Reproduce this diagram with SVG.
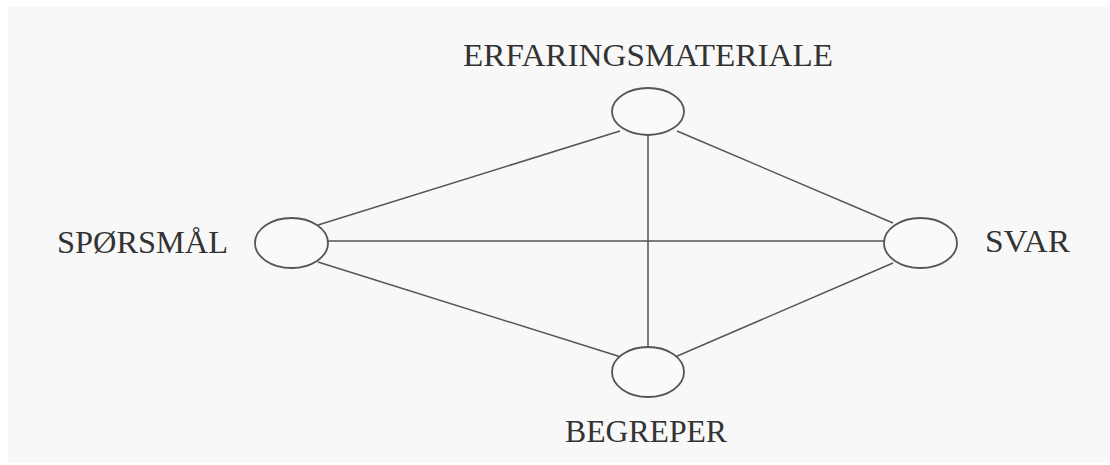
<svg xmlns="http://www.w3.org/2000/svg" width="1110" height="465" viewBox="0 0 1110 465">
<style>
.bg{fill:#f8f8f8}
.node ellipse{fill:#fafafa;stroke:#555;stroke-width:1.8}
.edges line{stroke:#555;stroke-width:1.5}
.lbl{font-family:"Liberation Serif","Times New Roman",serif;font-size:31px;fill:#333}
</style>
<rect x="0" y="0" width="1110" height="465" fill="#ffffff"/>
<rect class="bg" x="8" y="7" width="1102" height="456"/>
<g class="edges">
<line x1="318" y1="225" x2="620" y2="131"/>
<line x1="648" y1="135" x2="648" y2="347"/>
<line x1="328" y1="241" x2="884" y2="241"/>
<line x1="677" y1="131" x2="893" y2="223"/>
<line x1="318" y1="262" x2="621" y2="357"/>
<line x1="893" y1="263" x2="675" y2="357"/>
</g>
<g id="erfaringsmateriale" class="node">
<ellipse cx="648" cy="111.5" rx="36" ry="23.5"/>
<text class="lbl" x="463" y="66" textLength="370" lengthAdjust="spacingAndGlyphs">ERFARINGSMATERIALE</text>
</g>
<g id="sporsmal" class="node">
<ellipse cx="291.5" cy="243" rx="36.5" ry="25"/>
<text class="lbl" x="57" y="253" textLength="171" lengthAdjust="spacingAndGlyphs">SPØRSMÅL</text>
</g>
<g id="svar" class="node">
<ellipse cx="920.5" cy="243" rx="36.5" ry="25"/>
<text class="lbl" x="985" y="252" textLength="85" lengthAdjust="spacingAndGlyphs">SVAR</text>
</g>
<g id="begreper" class="node">
<ellipse cx="648" cy="372" rx="36" ry="25"/>
<text class="lbl" x="565" y="442" textLength="162" lengthAdjust="spacingAndGlyphs">BEGREPER</text>
</g>
</svg>
